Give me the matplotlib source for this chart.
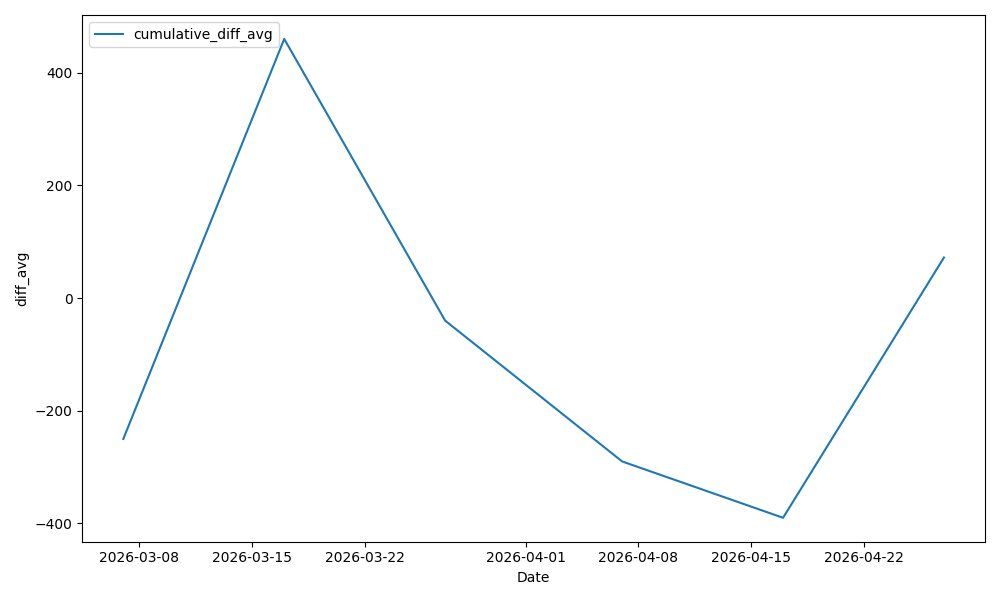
import pandas as pd
import matplotlib
matplotlib.use('Agg')
import matplotlib.pyplot as plt

# Values
dates = ['2026-03-07', '2026-03-17', '2026-03-27', '2026-04-07', '2026-04-17', '2026-04-27']
cumulative_diff_avg = [-250, 460, -40, -290, -390, 72]

df = pd.DataFrame({'Date': pd.to_datetime(dates), 'cumulative_diff_avg': cumulative_diff_avg})

fig, ax = plt.subplots(figsize=(10, 6))
ax.plot(df['Date'], df['cumulative_diff_avg'], label='cumulative_diff_avg')
ax.set_xlabel('Date')
ax.set_ylabel('diff_avg')
ax.legend(loc='upper left')
plt.tight_layout()
plt.savefig('out.png', dpi=100)
